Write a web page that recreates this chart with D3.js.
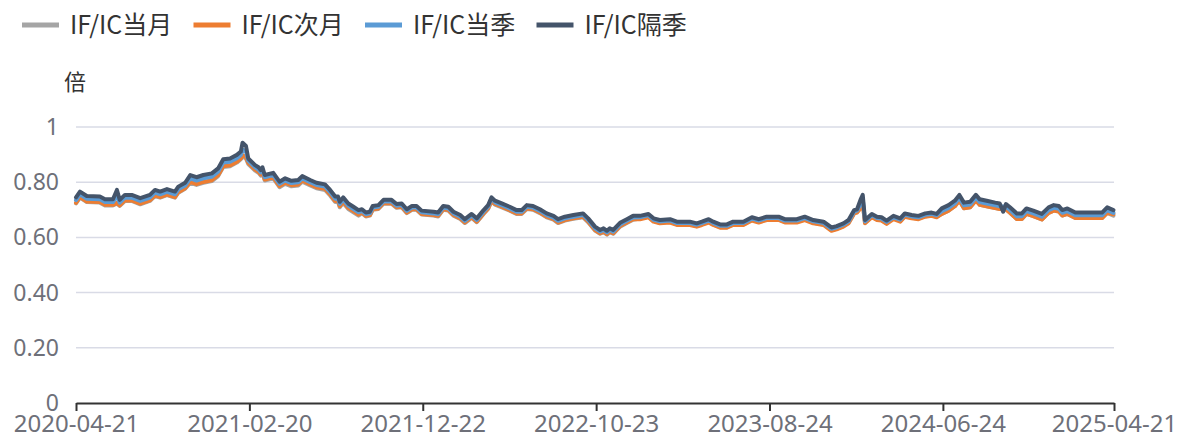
<!DOCTYPE html>
<html>
<head>
<meta charset="utf-8">
<script src="https://cdn.jsdelivr.net/npm/d3@7"></script>
<style>
  body { margin: 0; background: #fff; }
  svg { display: block; }
</style>
</head>
<body>
<svg id="chart" width="1180" height="438"></svg>
<script>
var seriesNames = ["IF/IC当月", "IF/IC次月", "IF/IC当季", "IF/IC隔季"];
var seriesColors = ["#a5a5a5", "#ed7d31", "#5b9bd5", "#44546a"];

var dates = [
  "2020-04-21","2020-04-28","2020-05-10","2020-06-02","2020-06-11","2020-06-25","2020-07-02","2020-07-07","2020-07-16","2020-07-28",
  "2020-08-12","2020-08-29","2020-09-07","2020-09-16","2020-09-28","2020-10-12","2020-10-18","2020-10-30","2020-11-08","2020-11-19",
  "2020-12-01","2020-12-16","2020-12-27","2021-01-05","2021-01-17","2021-01-29","2021-02-05","2021-02-08","2021-02-14","2021-02-18",
  "2021-03-02","2021-03-08","2021-03-12","2021-03-15","2021-03-19","2021-04-03","2021-04-14","2021-04-24","2021-05-05","2021-05-17",
  "2021-05-24","2021-06-07","2021-06-18","2021-07-03","2021-07-12","2021-07-21","2021-07-26","2021-07-29","2021-08-04","2021-08-13",
  "2021-08-22","2021-08-31","2021-09-06","2021-09-13","2021-09-20","2021-09-25","2021-10-05","2021-10-14","2021-10-28","2021-11-06",
  "2021-11-15","2021-11-24","2021-12-03","2021-12-11","2021-12-20","2022-01-10","2022-01-18","2022-01-27","2022-02-05","2022-02-14",
  "2022-02-26","2022-03-06","2022-03-18","2022-03-27","2022-04-08","2022-04-16","2022-04-22","2022-04-28","2022-05-10","2022-05-24",
  "2022-06-05","2022-06-14","2022-06-23","2022-07-04","2022-07-16","2022-07-28","2022-08-09","2022-08-17","2022-08-29","2022-09-13",
  "2022-09-30","2022-10-09","2022-10-21","2022-10-30","2022-11-05","2022-11-11","2022-11-16","2022-11-22","2022-12-04","2022-12-16",
  "2022-12-27","2023-01-08","2023-01-23","2023-02-01","2023-02-12","2023-03-02","2023-03-14","2023-04-06","2023-04-18","2023-04-27",
  "2023-05-09","2023-05-17","2023-05-29","2023-06-10","2023-06-21","2023-07-09","2023-07-24","2023-08-05","2023-08-19","2023-09-09",
  "2023-09-20","2023-10-11","2023-10-25","2023-11-09","2023-11-27","2023-12-11","2023-12-20","2024-01-01","2024-01-10","2024-01-20",
  "2024-01-25","2024-01-31","2024-02-04","2024-02-08","2024-02-20","2024-02-29","2024-03-08","2024-03-17","2024-03-29","2024-04-10",
  "2024-04-18","2024-04-30","2024-05-12","2024-05-24","2024-06-04","2024-06-13","2024-06-22","2024-07-04","2024-07-15","2024-07-23",
  "2024-07-31","2024-08-11","2024-08-21","2024-08-28","2024-09-09","2024-09-24","2024-10-02","2024-10-08","2024-10-13","2024-10-20",
  "2024-11-01","2024-11-10","2024-11-18","2024-11-30","2024-12-15","2024-12-27","2025-01-05","2025-01-14","2025-01-20","2025-01-29",
  "2025-02-12","2025-03-31","2025-04-09","2025-04-20"
];

// IF/IC隔季
var geji = [
  0.745,0.766,0.750,0.748,0.738,0.738,0.772,0.736,0.754,0.754,
  0.742,0.754,0.772,0.766,0.775,0.766,0.784,0.798,0.826,0.818,
  0.826,0.832,0.850,0.883,0.886,0.899,0.911,0.943,0.931,0.886,
  0.862,0.854,0.844,0.854,0.826,0.834,0.802,0.814,0.805,0.808,
  0.822,0.808,0.798,0.792,0.772,0.748,0.748,0.729,0.745,0.723,
  0.711,0.699,0.702,0.690,0.693,0.714,0.717,0.736,0.736,0.721,
  0.723,0.702,0.714,0.714,0.697,0.693,0.690,0.714,0.711,0.693,
  0.681,0.666,0.685,0.669,0.699,0.717,0.745,0.733,0.723,0.711,
  0.699,0.699,0.717,0.714,0.702,0.687,0.678,0.666,0.675,0.681,
  0.687,0.669,0.639,0.627,0.633,0.624,0.633,0.627,0.653,0.666,
  0.678,0.678,0.685,0.669,0.663,0.666,0.657,0.657,0.651,0.657,
  0.666,0.657,0.647,0.647,0.657,0.657,0.673,0.666,0.675,0.675,
  0.666,0.666,0.675,0.663,0.657,0.636,0.641,0.651,0.663,0.699,
  0.702,0.736,0.754,0.663,0.685,0.675,0.673,0.661,0.678,0.669,
  0.687,0.681,0.678,0.687,0.690,0.685,0.705,0.717,0.733,0.754,
  0.726,0.729,0.754,0.738,0.733,0.726,0.723,0.693,0.721,0.709,
  0.687,0.687,0.705,0.697,0.685,0.709,0.717,0.714,0.699,0.705,
  0.690,0.690,0.709,0.699
];

// IF/IC当季
var dangji = [
  0.735,0.756,0.740,0.738,0.728,0.728,0.750,0.726,0.744,0.744,
  0.732,0.744,0.762,0.756,0.765,0.756,0.774,0.788,0.814,0.806,
  0.814,0.820,0.838,0.871,0.874,0.887,0.899,0.918,0.911,0.878,
  0.854,0.846,0.836,0.846,0.818,0.826,0.794,0.806,0.797,0.800,
  0.814,0.800,0.790,0.784,0.764,0.740,0.740,0.721,0.737,0.715,
  0.703,0.691,0.696,0.684,0.687,0.708,0.711,0.730,0.730,0.715,
  0.717,0.696,0.708,0.708,0.691,0.687,0.684,0.708,0.705,0.687,
  0.675,0.660,0.679,0.663,0.693,0.711,0.742,0.727,0.717,0.705,
  0.693,0.693,0.711,0.708,0.696,0.681,0.672,0.660,0.669,0.675,
  0.681,0.663,0.633,0.621,0.627,0.618,0.627,0.621,0.647,0.660,
  0.672,0.673,0.680,0.664,0.658,0.661,0.652,0.652,0.646,0.652,
  0.661,0.652,0.642,0.642,0.652,0.652,0.668,0.661,0.670,0.670,
  0.661,0.661,0.670,0.658,0.652,0.631,0.636,0.646,0.658,0.694,
  0.697,0.720,0.740,0.658,0.680,0.670,0.668,0.656,0.673,0.664,
  0.682,0.676,0.673,0.682,0.685,0.680,0.695,0.707,0.723,0.744,
  0.716,0.719,0.744,0.728,0.723,0.716,0.713,0.712,0.711,0.699,
  0.677,0.677,0.695,0.687,0.675,0.699,0.707,0.704,0.689,0.695,
  0.680,0.680,0.699,0.689
];

// IF/IC次月
var ciyue = [
  0.725,0.746,0.730,0.728,0.718,0.718,0.725,0.716,0.734,0.734,
  0.722,0.734,0.752,0.746,0.755,0.746,0.764,0.778,0.801,0.793,
  0.801,0.807,0.825,0.858,0.861,0.874,0.886,0.898,0.891,0.870,
  0.846,0.838,0.828,0.838,0.810,0.818,0.786,0.798,0.789,0.792,
  0.806,0.792,0.782,0.776,0.756,0.732,0.732,0.713,0.729,0.707,
  0.695,0.683,0.690,0.678,0.681,0.702,0.705,0.724,0.724,0.709,
  0.711,0.690,0.702,0.702,0.685,0.681,0.678,0.702,0.699,0.681,
  0.669,0.654,0.673,0.657,0.687,0.705,0.733,0.721,0.711,0.699,
  0.687,0.687,0.705,0.702,0.690,0.675,0.666,0.654,0.663,0.669,
  0.675,0.657,0.627,0.615,0.621,0.612,0.621,0.615,0.641,0.654,
  0.666,0.666,0.673,0.657,0.651,0.654,0.645,0.645,0.639,0.645,
  0.654,0.645,0.635,0.635,0.645,0.645,0.661,0.654,0.663,0.663,
  0.654,0.654,0.663,0.651,0.645,0.624,0.629,0.639,0.651,0.687,
  0.690,0.705,0.722,0.651,0.673,0.663,0.661,0.649,0.666,0.657,
  0.675,0.669,0.666,0.675,0.678,0.673,0.685,0.697,0.713,0.734,
  0.706,0.709,0.734,0.718,0.713,0.706,0.703,0.705,0.701,0.689,
  0.667,0.667,0.685,0.677,0.665,0.689,0.697,0.694,0.679,0.685,
  0.670,0.670,0.689,0.684
];

// IF/IC当月
var dangyue = [
  0.723,0.744,0.728,0.726,0.716,0.716,0.722,0.714,0.732,0.732,
  0.720,0.732,0.750,0.744,0.753,0.744,0.762,0.776,0.798,0.790,
  0.798,0.804,0.822,0.855,0.858,0.871,0.883,0.893,0.886,0.866,
  0.842,0.834,0.824,0.834,0.806,0.814,0.782,0.794,0.785,0.788,
  0.802,0.788,0.778,0.772,0.752,0.728,0.728,0.709,0.725,0.703,
  0.691,0.679,0.688,0.676,0.679,0.700,0.703,0.722,0.722,0.707,
  0.709,0.688,0.700,0.700,0.683,0.679,0.676,0.700,0.697,0.679,
  0.667,0.652,0.671,0.655,0.685,0.703,0.731,0.719,0.709,0.697,
  0.685,0.685,0.703,0.700,0.688,0.673,0.664,0.652,0.661,0.667,
  0.673,0.655,0.625,0.613,0.619,0.610,0.619,0.613,0.639,0.652,
  0.664,0.668,0.675,0.659,0.653,0.656,0.647,0.647,0.641,0.647,
  0.656,0.647,0.637,0.637,0.647,0.647,0.663,0.656,0.665,0.665,
  0.656,0.656,0.665,0.653,0.647,0.626,0.631,0.641,0.653,0.689,
  0.692,0.708,0.728,0.653,0.675,0.665,0.663,0.651,0.674,0.659,
  0.677,0.671,0.668,0.677,0.680,0.675,0.685,0.697,0.713,0.734,
  0.706,0.709,0.734,0.718,0.713,0.706,0.703,0.703,0.701,0.689,
  0.667,0.667,0.685,0.677,0.665,0.689,0.697,0.694,0.679,0.685,
  0.670,0.670,0.689,0.679
];

var yTicks = [0, 0.2, 0.4, 0.6, 0.8, 1];
var yTickLabels = ["0", "0.20", "0.40", "0.60", "0.80", "1"];
var xTickDates = ["2020-04-21","2021-02-20","2021-12-22","2022-10-23","2023-08-24","2024-06-24","2025-04-21"];

(function() {
  var parse = d3.timeParse("%Y-%m-%d");
  var fmt = d3.timeFormat("%Y-%m-%d");
  var series = [dangyue, ciyue, dangji, geji];

  var svg = d3.select("#chart"),
      mLeft = 76, mRight = 1114, mTop = 127, mBottom = 403,
      numFont = "'Noto Sans', sans-serif",
      cjkFont = "'Noto Sans CJK SC', 'Noto Sans', sans-serif";

  var x = d3.scaleTime()
      .domain([parse("2020-04-21"), parse("2025-04-21")])
      .range([mLeft, mRight]);
  var y = d3.scaleLinear().domain([0, 1]).range([mBottom, mTop]);

  // grid
  svg.append("g").selectAll("line")
      .data(yTicks.filter(function(d) { return d > 0; }))
    .enter().append("line")
      .attr("x1", mLeft).attr("x2", mRight)
      .attr("y1", function(d) { return y(d); })
      .attr("y2", function(d) { return y(d); })
      .style("stroke", "#d9dbe6").style("stroke-width", 1.5);

  // y labels
  svg.append("g").selectAll("text")
      .data(yTicks)
    .enter().append("text")
      .attr("x", 59)
      .attr("y", function(d) { return y(d) + 8; })
      .attr("text-anchor", "end")
      .style("font-family", numFont).style("font-size", "23px")
      .style("fill", "#6e7079")
      .text(function(d, i) { return yTickLabels[i]; });

  svg.append("text")
      .attr("x", 75).attr("y", 90)
      .attr("text-anchor", "middle")
      .style("font-family", cjkFont).style("font-size", "22px")
      .style("fill", "#333")
      .text("倍");

  // x axis
  var xAxis = d3.axisBottom(x)
      .tickValues(xTickDates.map(parse))
      .tickFormat(fmt)
      .tickSize(8)
      .tickSizeOuter(0);
  var gx = svg.append("g")
      .attr("transform", "translate(0," + mBottom + ")")
      .call(xAxis);
  gx.select(".domain").style("stroke", "#333").style("stroke-width", 2);
  gx.selectAll(".tick line").style("stroke", "#333").style("stroke-width", 2);
  gx.selectAll(".tick text")
      .attr("y", 12)
      .style("font-family", numFont).style("font-size", "24px")
      .style("fill", "#6e7079");

  // lines
  var line = d3.line()
      .x(function(d) { return x(d.date); })
      .y(function(d) { return y(d.v); });

  series.forEach(function(vals, k) {
    var pts = dates.map(function(d, i) { return {date: parse(d), v: vals[i]}; });
    svg.append("path")
        .datum(pts)
        .attr("d", line)
        .style("fill", "none")
        .style("stroke", seriesColors[k])
        .style("stroke-width", 4)
        .style("stroke-linejoin", "round")
        .style("stroke-linecap", "round");
  });

  // legend
  var lg = svg.append("g").selectAll("g")
      .data(seriesNames)
    .enter().append("g")
      .attr("transform", function(d, i) { return "translate(" + (22 + i * 171.5) + ",25)"; });
  lg.append("line")
      .attr("x1", 0).attr("x2", 37).attr("y1", 0).attr("y2", 0)
      .style("stroke", function(d, i) { return seriesColors[i]; })
      .style("stroke-width", 5);
  lg.append("text")
      .attr("x", 48).attr("y", 9)
      .style("font-family", cjkFont).style("font-size", "25px")
      .style("fill", "#333")
      .text(function(d) { return d; });
})();
</script>
</body>
</html>
